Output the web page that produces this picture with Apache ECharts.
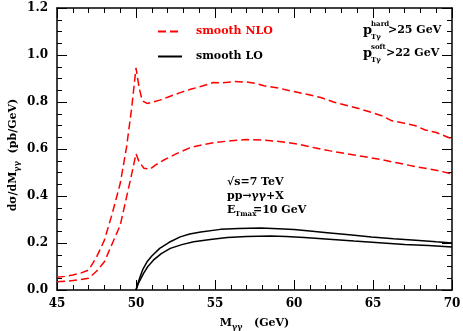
<!DOCTYPE html>
<html><head><meta charset="utf-8">
<script src="https://cdn.jsdelivr.net/npm/echarts@6/dist/echarts.min.js"></script>
<style>html,body{margin:0;padding:0;background:#fff}#wrap{position:relative;width:463px;height:331px}
#c,#l{position:absolute;left:0;top:0;width:463px;height:331px}</style>
</head><body><div id="wrap"><div id="c"></div><div id="l"></div></div>
<script>
// NLO (red dashed), upper curve
const nloUpperM = [45, 45.5, 46, 46.5, 47, 47.5, 48, 48.5, 49, 49.4, 49.73, 50.0, 50.2, 50.4, 50.7, 51, 51.5, 52, 52.8, 53.5, 54.2, 54.9, 55.5, 56.2, 57, 57.5, 58.1, 59, 59.6, 60.6, 61.7, 62.5, 63.4, 64.2, 64.9, 65.6, 66.2, 67, 67.7, 68.3, 69, 70];
const nloUpperV = [0.054, 0.058, 0.064, 0.072, 0.085, 0.14, 0.212, 0.326, 0.453, 0.607, 0.777, 0.945, 0.86, 0.805, 0.794, 0.798, 0.808, 0.82, 0.84, 0.855, 0.868, 0.883, 0.882, 0.887, 0.885, 0.88, 0.869, 0.86, 0.85, 0.836, 0.819, 0.80, 0.784, 0.77, 0.756, 0.74, 0.72, 0.71, 0.699, 0.681, 0.67, 0.643];
// NLO (red dashed), lower curve
const nloLowerM = [45, 46, 47, 47.5, 48, 48.5, 49, 49.4, 49.73, 50.0, 50.2, 50.5, 50.9, 51.2, 51.7, 52.5, 53.4, 54.2, 54.9, 56, 57, 58, 59.2, 60.3, 61.3, 62.3, 63.4, 64.5, 65.5, 66.6, 67.7, 69, 70];
const nloLowerV = [0.035, 0.04, 0.05, 0.08, 0.12, 0.198, 0.275, 0.395, 0.494, 0.58, 0.545, 0.518, 0.515, 0.53, 0.551, 0.578, 0.605, 0.618, 0.627, 0.635, 0.64, 0.638, 0.631, 0.62, 0.605, 0.592, 0.579, 0.567, 0.555, 0.54, 0.525, 0.51, 0.494];
// LO (black solid), upper curve
const loUpperM = [50, 50.1, 50.26, 50.45, 50.7, 51.0, 51.5, 52.1, 52.8, 53.4, 54.1, 55.35, 56.5, 57.9, 59, 60, 61, 62.1, 63.5, 64.9, 66.3, 67.7, 69, 70];
const loUpperV = [0, 0.025, 0.056, 0.09, 0.12, 0.145, 0.177, 0.203, 0.226, 0.238, 0.247, 0.258, 0.262, 0.264, 0.261, 0.257, 0.251, 0.244, 0.235, 0.226, 0.218, 0.212, 0.205, 0.2];
// LO (black solid), lower curve
const loLowerM = [50, 50.15, 50.47, 50.75, 51.1, 51.6, 52.17, 52.9, 53.65, 54.7, 55.78, 57, 58.5, 59.5, 60.65, 62, 63.8, 65.4, 67, 68.5, 70];
const loLowerV = [0, 0.028, 0.07, 0.1, 0.127, 0.155, 0.177, 0.193, 0.205, 0.215, 0.223, 0.228, 0.23, 0.228, 0.223, 0.217, 0.208, 0.201, 0.194, 0.189, 0.183];

const seriesNames = ['smooth NLO', 'smooth LO'];
const xTicks = {min: 45, max: 70, interval: 5};
const yTicks = {min: 0, max: 1.2, interval: 0.2};

const zip = (a, b) => a.map((m, i) => [m, b[i]]);
const FONT = 'DejaVu Serif';
const RED = '#ff0000';
const labelStyle = {show: true, fontFamily: FONT, fontWeight: 'bold', fontSize: 12, color: '#000'};
const subRich = {sub: {fontFamily: FONT, fontWeight: 'bold', fontSize: 8, padding: [8, 0, 0, 0], color: '#000'}};
const gridRect = {left: 57, right: 11, top: 8, bottom: 41, outerBoundsMode: 'none'};

// chart 1: frame, ticks, curves, legend, annotations
function tickAxis(pos, t, split) {
  return Object.assign({type: 'value', position: pos, splitLine: {show: false},
    axisLine: {show: true, onZero: false, lineStyle: {color: '#000', width: 1.5}},
    axisLabel: {show: false},
    axisTick: {show: true, inside: true, length: 10, lineStyle: {color: '#000', width: 1}},
    minorTick: {show: true, splitNumber: split, length: 5, lineStyle: {color: '#000', width: 1}}}, t);
}
const chart = echarts.init(document.getElementById('c'), null, {renderer: 'canvas'});
chart.setOption({
  animation: false,
  backgroundColor: '#fff',
  grid: Object.assign({}, gridRect),
  legend: {
    orient: 'vertical', left: 152, top: 21,
    itemWidth: 24, itemHeight: 12, itemGap: 14,
    itemStyle: {opacity: 0},
    textStyle: {fontFamily: FONT, fontWeight: 'bold', fontSize: 11, padding: [0, 0, 0, 9]},
    data: [
      {name: seriesNames[0], textStyle: {color: RED}},
      {name: seriesNames[1], textStyle: {color: '#000'}}
    ]
  },
  xAxis: [tickAxis('bottom', xTicks, 5), tickAxis('top', xTicks, 5)],
  yAxis: [tickAxis('left', yTicks, 4), tickAxis('right', yTicks, 4)],
  series: [
    {name: seriesNames[0], type: 'line', data: zip(nloUpperM, nloUpperV), symbol: 'none',
      lineStyle: {color: RED, width: 1.5, type: [8, 4]}, itemStyle: {color: RED}},
    {name: seriesNames[0], type: 'line', data: zip(nloLowerM, nloLowerV), symbol: 'none',
      lineStyle: {color: RED, width: 1.5, type: [8, 4]}, itemStyle: {color: RED}},
    {name: seriesNames[1], type: 'line', data: zip(loUpperM, loUpperV), symbol: 'none',
      lineStyle: {color: '#000', width: 1.5}, itemStyle: {color: '#000'}},
    {name: seriesNames[1], type: 'line', data: zip(loLowerM, loLowerV), symbol: 'none',
      lineStyle: {color: '#000', width: 1.5}, itemStyle: {color: '#000'}}
  ],
  graphic: [
    {type: 'text', x: 13, y: 155, rotation: Math.PI / 2,
      style: {text: 'dσ/dM{sub|γγ}  (pb/GeV)', align: 'center', verticalAlign: 'middle',
        font: 'bold 11px "DejaVu Serif"', fill: '#000', rich: subRich}},
    {type: 'text', left: 363, top: 24, style: {text: 'p', font: 'bold 13px "DejaVu Serif"', fill: '#000'}},
    {type: 'text', left: 371, top: 21, style: {text: 'hard', font: 'bold 7px "DejaVu Serif"', fill: '#000'}},
    {type: 'text', left: 371, top: 34, style: {text: 'Tγ', font: 'bold 7px "DejaVu Serif"', fill: '#000'}},
    {type: 'text', left: 388, top: 25, style: {text: '>25 GeV', font: 'bold 11px "DejaVu Serif"', fill: '#000'}},
    {type: 'text', left: 363, top: 47, style: {text: 'p', font: 'bold 13px "DejaVu Serif"', fill: '#000'}},
    {type: 'text', left: 371, top: 44, style: {text: 'soft', font: 'bold 7px "DejaVu Serif"', fill: '#000'}},
    {type: 'text', left: 371, top: 57, style: {text: 'Tγ', font: 'bold 7px "DejaVu Serif"', fill: '#000'}},
    {type: 'text', left: 386, top: 48, style: {text: '>22 GeV', font: 'bold 11px "DejaVu Serif"', fill: '#000'}},
    {type: 'text', left: 227, top: 177, style: {text: '√s=7 TeV', font: 'bold 11px "DejaVu Serif"', fill: '#000'}},
    {type: 'text', left: 227, top: 191, style: {text: 'pp→γγ+X', font: 'bold 11px "DejaVu Serif"', fill: '#000'}},
    {type: 'text', left: 227, top: 205, style: {text: 'E', font: 'bold 11px "DejaVu Serif"', fill: '#000'}},
    {type: 'text', left: 235, top: 211, style: {text: 'Tmax', font: 'bold 7px "DejaVu Serif"', fill: '#000'}},
    {type: 'text', left: 253, top: 205, style: {text: '=10 GeV', font: 'bold 11px "DejaVu Serif"', fill: '#000'}}
  ]
});

// chart 2 (overlaid, transparent): tick labels and x-axis title on the same scales
const labels = echarts.init(document.getElementById('l'), null, {renderer: 'canvas'});
labels.setOption({
  animation: false,
  backgroundColor: 'transparent',
  grid: Object.assign({}, gridRect),
  xAxis: Object.assign({type: 'value', position: 'bottom', splitLine: {show: false},
    axisLine: {show: false}, axisTick: {show: false}, minorTick: {show: false},
    axisLabel: Object.assign({margin: 8}, labelStyle),
    name: 'M{sub|γγ}   (GeV)', nameLocation: 'middle', nameGap: 25,
    nameTextStyle: {fontFamily: FONT, fontWeight: 'bold', fontSize: 11, color: '#000', rich: subRich}}, xTicks),
  yAxis: Object.assign({type: 'value', position: 'left', splitLine: {show: false},
    axisLine: {show: false}, axisTick: {show: false}, minorTick: {show: false},
    axisLabel: Object.assign({margin: 9, formatter: v => v.toFixed(1)}, labelStyle)}, yTicks),
  series: []
});
</script></body></html>
